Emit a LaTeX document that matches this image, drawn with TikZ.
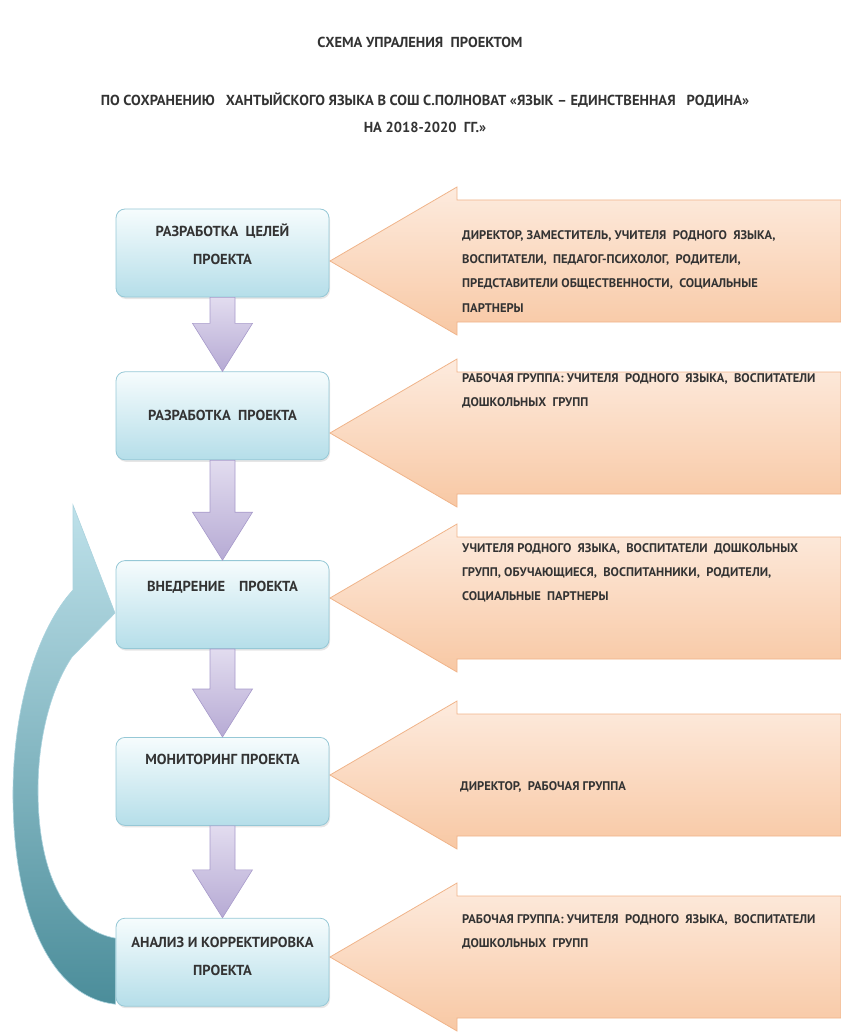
\documentclass[tikz,border=0pt]{standalone}
\usepackage{fontspec}
\setmainfont{PT Sans}
\usepackage{tikz}
\usetikzlibrary{positioning,calc,shadows}
\definecolor{txt}{HTML}{333333}
\definecolor{boxtop}{HTML}{F6FCFD}
\definecolor{boxbot}{HTML}{B5DEE9}
\definecolor{boxline}{HTML}{96C8D6}
\definecolor{roletop}{HTML}{FDEBDE}
\definecolor{rolebot}{HTML}{F8C8A4}
\definecolor{roleline}{HTML}{F0B48A}
\definecolor{flowtop}{HTML}{E2DCEF}
\definecolor{flowbot}{HTML}{B6AAD4}
\definecolor{flowline}{HTML}{A89BCB}
\definecolor{looptop}{HTML}{BEE1EA}
\definecolor{loopmid}{HTML}{D3ECF1}
\definecolor{loopbot}{HTML}{4B8D9A}

\begin{document}
\begin{tikzpicture}[x=1pt,y=-1pt,
		stage/.style={draw=boxline,line width=0.8pt,rounded corners=9pt,top color=boxtop,bottom color=boxbot,
			minimum width=213pt,minimum height=88pt,inner sep=0pt,
			drop shadow={shadow xshift=1pt,shadow yshift=-2pt,opacity=.2}},
		stagetext/.style={font=\fontsize{14.5}{28}\selectfont\bfseries,text=txt,align=center,inner sep=0pt},
		role/.style={draw=roleline,line width=0.8pt,top color=roletop,bottom color=rolebot},
		roletext/.style={font=\fontsize{12.5}{24.3}\selectfont\bfseries,text=txt,align=left,inner sep=0pt,anchor=north west},
		flow/.style={draw=flowline,line width=0.6pt,top color=flowtop,bottom color=flowbot},
		title/.style={font=\fontsize{14.5}{27}\selectfont\bfseries,text=txt,align=center,inner sep=0pt}]
		\useasboundingbox (0,0) rectangle (840,1032);

		\node[title] (head1) at (420,42) {СХЕМА УПРАЛЕНИЯ\ \ ПРОЕКТОМ};
		\node[title] (head2) at (425,113) {ПО СОХРАНЕНИЮ\ \ \ ХАНТЫЙСКОГО ЯЗЫКА В СОШ С.ПОЛНОВАТ «ЯЗЫК -- ЕДИНСТВЕННАЯ\ \ \ РОДИНА»\\НА 2018-2020\ \ ГГ.»};

		\foreach \c in {261,433,598,775,957}
			\path[role] (330,\c) -- (457,\c-74) -- (457,\c-61) -- (841,\c-61) -- (841,\c+61) -- (457,\c+61) -- (457,\c+74) -- cycle;

		\node[stage] (b1) at (222.5,253) {};
		\node[stage,below=74pt of b1] (b2) {};
		\node[stage,below=100pt of b2] (b3) {};
		\node[stage,below=88pt of b3] (b4) {};
		\node[stage,below=92pt of b4] (b5) {};

		\node[stagetext,below=15pt of b1.north] (s1) {РАЗРАБОТКА\ \ ЦЕЛЕЙ\\ПРОЕКТА};
		\node[stagetext,below=39pt of b2.north] (s2) {РАЗРАБОТКА\ \ ПРОЕКТА};
		\node[stagetext,below=21pt of b3.north] (s3) {ВНЕДРЕНИЕ\hspace{14pt}ПРОЕКТА};
		\node[stagetext,below=17pt of b4.north] (s4) {МОНИТОРИНГ ПРОЕКТА};
		\node[stagetext,below=19pt of b5.north] (s5) {АНАЛИЗ И КОРРЕКТИРОВКА\\ПРОЕКТА};

		\foreach \a/\b in {b1/b2,b2/b3,b3/b4,b4/b5}
			\path[flow] ($(\a.south)+(-12.5,0)$) -- ($(\a.south)+(12.5,0)$) -- ($(\b.north)+(12.5,-48)$)
				-- ($(\b.north)+(30,-48)$) -- (\b.north) -- ($(\b.north)+(-30,-48)$) -- ($(\b.north)+(-12.5,-48)$) -- cycle;

		\path[draw=boxline!80,line width=0.6pt,top color=looptop,middle color=loopmid,bottom color=loopbot]
			($(b5.west)+(0,42)$) .. controls (45,997) and (12,900) .. (13,790)
			.. controls (14,690) and (45,620) .. (73,590) -- (73,505) -- (115,613) -- (72,657)
			.. controls (50,690) and (38,740) .. (38,790) .. controls (38,880) and (70,930) .. ($(b5.west)+(0,-24)$) -- cycle;

		\node[roletext] (r1) at (462,230) {ДИРЕКТОР, ЗАМЕСТИТЕЛЬ, УЧИТЕЛЯ\ \ РОДНОГО\ \ ЯЗЫКА,\\ВОСПИТАТЕЛИ,\ \ ПЕДАГОГ-ПСИХОЛОГ,\ \ РОДИТЕЛИ,\\ПРЕДСТАВИТЕЛИ ОБЩЕСТВЕННОСТИ,\ \ СОЦИАЛЬНЫЕ\\ПАРТНЕРЫ};
		\node[roletext] (r2) at (462,373) {РАБОЧАЯ ГРУППА: УЧИТЕЛЯ\ \ РОДНОГО\ \ ЯЗЫКА,\ \ ВОСПИТАТЕЛИ\\ДОШКОЛЬНЫХ\ \ ГРУПП};
		\node[roletext] (r3) at (462,543) {УЧИТЕЛЯ РОДНОГО\ \ ЯЗЫКА,\ \ ВОСПИТАТЕЛИ\ \ ДОШКОЛЬНЫХ\\ГРУПП, ОБУЧАЮЩИЕСЯ,\ \ ВОСПИТАННИКИ,\ \ РОДИТЕЛИ,\\СОЦИАЛЬНЫЕ\ \ ПАРТНЕРЫ};
		\node[roletext] (r4) at (460,781) {ДИРЕКТОР,\ \ РАБОЧАЯ ГРУППА};
		\node[roletext] (r5) at (462,914) {РАБОЧАЯ ГРУППА: УЧИТЕЛЯ\ \ РОДНОГО\ \ ЯЗЫКА,\ \ ВОСПИТАТЕЛИ\\ДОШКОЛЬНЫХ\ \ ГРУПП};
\end{tikzpicture}
\end{document}
